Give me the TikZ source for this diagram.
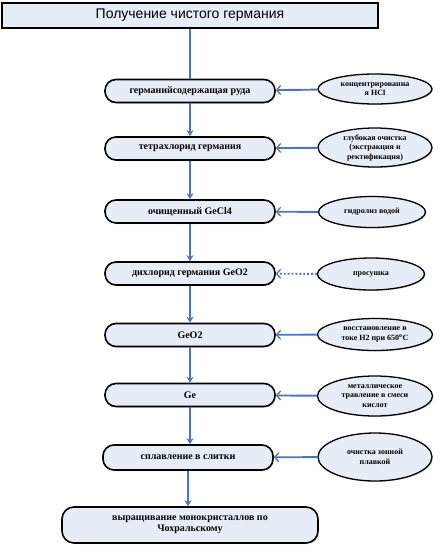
\documentclass[tikz,border=0pt]{standalone}
\usepackage{fontspec}
\setmainfont{Liberation Serif}
\newfontfamily\titlefont{Liberation Sans}
\usetikzlibrary{arrows.meta,shapes.geometric,shadows}
\definecolor{boxfill}{RGB}{231,237,247}
\definecolor{conn}{RGB}{74,118,190}
\tikzset{
  stepbox/.style={draw=black,line width=1.6pt,fill=boxfill,rounded corners=11pt,
    minimum width=170pt,minimum height=23pt,inner sep=1pt,align=center,
    font=\fontsize{10}{11}\selectfont\bfseries,
    drop shadow={shadow xshift=1pt,shadow yshift=-1pt,opacity=0.3}},
  agent/.style={draw=black,line width=1.3pt,fill=boxfill,ellipse,inner sep=0pt,
    align=center,font=\fontsize{8}{9.5}\selectfont\bfseries,
    drop shadow={shadow xshift=1pt,shadow yshift=-1pt,opacity=0.3}},
  down/.style={draw=conn,line width=1.9pt,-{Stealth[length=6pt,width=7pt]}},
  feed/.style={draw=conn,line width=1.9pt,-{Straight Barb[length=4pt,width=9pt,line width=1.3pt]}},
}
\begin{document}
\begin{tikzpicture}[x=1pt,y=-1pt]
\useasboundingbox (0,0) rectangle (445,555);
\node[draw=black,line width=1.5pt,fill=boxfill,minimum width=376pt,minimum height=25pt,
  inner sep=0pt,font=\titlefont\fontsize{14}{15}\selectfont,
  drop shadow={shadow xshift=1pt,shadow yshift=-1pt,opacity=0.3}] (t) at (190,15.5) {Получение чистого германия};
\node[stepbox] (b1) at (190,91) {германийсодержащая руда};
\node[stepbox] (b2) at (190,148.5) {тетрахлорид германия};
\node[stepbox] (b3) at (190,211.5) {очищенный GeCl4};
\node[stepbox] (b4) at (190,273.5) {дихлорид германия GeO2};
\node[stepbox] (b5) at (190,335) {GeO2};
\node[stepbox] (b6) at (190,395) {Ge};
\node[stepbox,minimum height=25pt] (b7) at (188,457.5) {сплавление в слитки};
\node[stepbox,minimum width=256pt,minimum height=36pt,rounded corners=12pt] (b8) at (190,525) {выращивание монокристаллов по\\Чохральскому};
\node[agent,minimum width=114pt,minimum height=30pt] (e1) at (375,89) {концентрированна\\я HCl};
\node[agent,minimum width=114pt,minimum height=39pt] (e2) at (375,147.5) {глубокая очистка\\(экстракция и\\ректификация)};
\node[agent,minimum width=107pt,minimum height=31pt] (e3) at (372,212) {гидролиз водой};
\node[agent,minimum width=107pt,minimum height=32pt] (e4) at (371,274) {просушка};
\node[agent,minimum width=115pt,minimum height=32pt] (e5) at (375,334.5) {восстановление в\\токе H2 при 650\textsuperscript{o}C};
\node[agent,minimum width=115pt,minimum height=40pt] (e6) at (375,396) {металлическое\\травление в смеси\\кислот};
\node[agent,minimum width=114pt,minimum height=48pt] (e7) at (375,457) {очистка зонной\\плавкой};
\draw[draw=conn,line width=1.9pt] (t.south -| b1.north) -- (b1.north);
\draw[down] (b1) -- (b2);
\draw[down] (b2) -- (b3);
\draw[down] (b3) -- (b4);
\draw[down] (b4) -- (b5);
\draw[down] (b5) -- (b6);
\draw[down] (b6.south) -- (b6.south |- b7.north);
\draw[down] (b7) -- (b7 |- b8.north);
\draw[feed] (e1) -- (b1);
\draw[feed] (e2) -- (b2);
\draw[feed] (e3) -- (b3);
\draw[feed,dotted] (e4) -- (b4);
\draw[feed] (e5) -- (b5);
\draw[feed] (e6) -- (b6);
\draw[feed] (e7) -- (b7);
\end{tikzpicture}
\end{document}
